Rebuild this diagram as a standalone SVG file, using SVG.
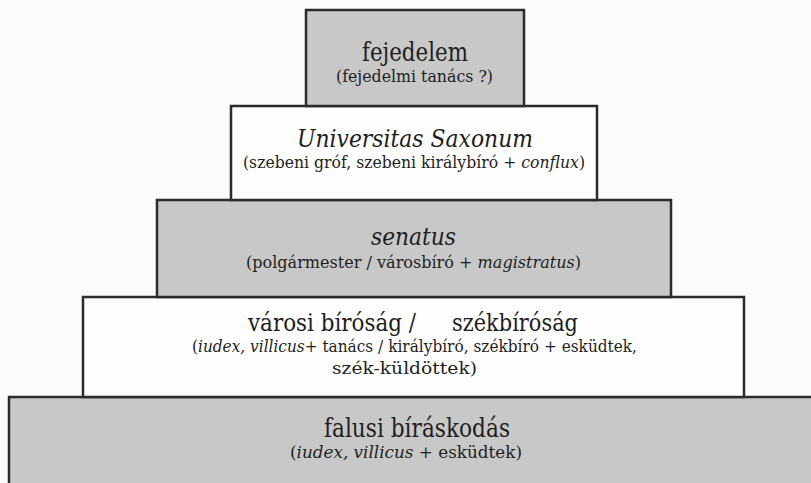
<svg xmlns="http://www.w3.org/2000/svg" width="811" height="483" viewBox="0 0 811 483">
  <style>
    .gray { fill: #c8c8c8; stroke: #2b2b2b; stroke-width: 2.5; }
    .white { fill: #fdfdfd; stroke: #2b2b2b; stroke-width: 2.5; }
    .t { font-size: 24px; }
    .tb { font-size: 26px; }
    .s { font-size: 17px; }
    .i { font-style: italic; }
  </style>
  <rect x="0" y="0" width="811" height="483" fill="#fbfbfb"/>

  <g font-family="'DejaVu Serif', 'Liberation Serif', serif" fill="#1e1e1e">
  <g id="falusi">
    <rect class="gray" x="9" y="397" width="820" height="110"/>
    <text class="tb" x="324" y="437" textLength="186" lengthAdjust="spacingAndGlyphs">falusi bíráskodás</text>
    <text class="s" x="290" y="458" textLength="232" lengthAdjust="spacingAndGlyphs">(<tspan class="i">iudex, villicus</tspan> + esküdtek)</text>
  </g>

  <g id="varosi">
    <rect class="white" x="83" y="297" width="661" height="100"/>
    <text class="t" x="248" y="331" textLength="168" lengthAdjust="spacingAndGlyphs">városi bíróság /</text>
    <text class="t" x="452" y="331" textLength="126" lengthAdjust="spacingAndGlyphs">székbíróság</text>
    <text class="s" x="192" y="352" textLength="445" lengthAdjust="spacingAndGlyphs">(<tspan class="i">iudex, villicus</tspan>+ tanács / királybíró, székbíró + esküdtek,</text>
    <text class="s" x="332" y="374" textLength="145" lengthAdjust="spacingAndGlyphs">szék-küldöttek)</text>
  </g>

  <g id="senatus">
    <rect class="gray" x="157" y="200" width="514" height="97"/>
    <text class="t i" x="371" y="245" textLength="85" lengthAdjust="spacingAndGlyphs">senatus</text>
    <text class="s" x="246" y="268" textLength="335" lengthAdjust="spacingAndGlyphs">(polgármester / városbíró + <tspan class="i">magistratus</tspan>)</text>
  </g>

  <g id="universitas">
    <rect class="white" x="231" y="106" width="366" height="94"/>
    <text class="t i" x="297" y="147" textLength="236" lengthAdjust="spacingAndGlyphs">Universitas Saxonum</text>
    <text class="s" x="243" y="168" textLength="342" lengthAdjust="spacingAndGlyphs">(szebeni gróf, szebeni királybíró + <tspan class="i">conflux</tspan>)</text>
  </g>

  <g id="fejedelem">
    <rect class="gray" x="306" y="10" width="218" height="96"/>
    <text class="tb" x="362" y="61" textLength="106" lengthAdjust="spacingAndGlyphs">fejedelem</text>
    <text class="s" x="336" y="82" textLength="157" lengthAdjust="spacingAndGlyphs">(fejedelmi tanács ?)</text>
  </g>
  </g>
</svg>
